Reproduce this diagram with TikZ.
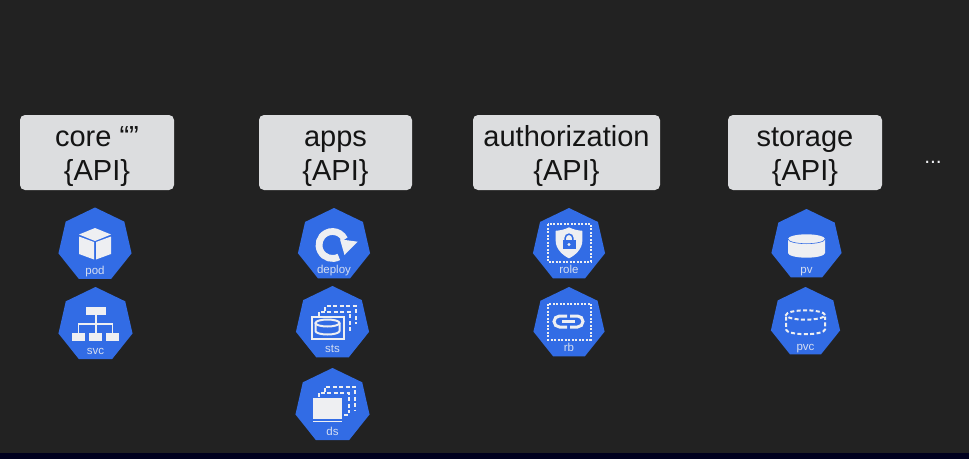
\documentclass[tikz,border=0pt]{standalone}
\usepackage{fontspec}
\setmainfont{Liberation Sans}
\usetikzlibrary{shapes.geometric}
\definecolor{bgdark}{HTML}{222222}
\definecolor{stripdark}{HTML}{00001E}
\definecolor{boxgrey}{HTML}{DCDDDF}
\definecolor{kblue}{HTML}{326CE5}
\definecolor{iconw}{HTML}{EEEFF2}
\definecolor{labelw}{HTML}{D5DEF2}
\newcommand{\apistrut}{\rule{0pt}{24pt}\rule[-5pt]{0pt}{5pt}}
\tikzset{
  apibox/.style={fill=boxgrey,rounded corners=5pt,minimum height=75pt,inner sep=0pt},
  apitext/.style={align=center,text=black!92,inner sep=0pt,yshift=-2pt,font=\fontsize{29}{34}\selectfont},
  hept/.style={regular polygon,regular polygon sides=7,fill=kblue,inner sep=0pt,outer sep=0pt},
  kindlabel/.style={text=labelw,font=\fontsize{11.5}{12}\selectfont,inner sep=0pt,anchor=base},
  solidw/.style={fill=iconw,draw=none},
  linew/.style={draw=iconw,line width=1.8pt},
  dashw/.style={draw=iconw,line width=2pt,dash pattern=on 4pt off 2.4pt},
  dashs/.style={draw=iconw,line width=2pt,dash pattern=on 2pt off 1.5pt},
}
% name, cx, cy, R, label, baseline offset, icon
\newcommand{\kobj}[7]{%
  \node[hept,minimum size={2*#4pt}] (#1) at (#2,#3) {};
  \node[kindlabel] (#1label) at (#2,#3-#6) {#5};
  \begin{scope}[shift={(#1.center)}]#7\end{scope}%
}
\begin{document}
\begin{tikzpicture}[x=1pt,y=1pt]
\useasboundingbox (0,0) rectangle (969,459);
\fill[bgdark] (0,0) rectangle (969,459);
\fill[stripdark] (0,0) rectangle (969,6.3);
\node[apibox,minimum width=154pt] (core) at (97,306.5) {};
\node[apitext] (coretext) at (core.center) {\apistrut core “”\\\apistrut\{API\}};
\node[apibox,minimum width=153pt] (apps) at (335.5,306.5) {};
\node[apitext] (appstext) at (apps.center) {\apistrut apps\\\apistrut\{API\}};
\node[apibox,minimum width=187pt] (authz) at (566.5,306.5) {};
\node[apitext] (authztext) at (authz.center) {\apistrut authorization\\\apistrut\{API\}};
\node[apibox,minimum width=154pt] (storage) at (805,306.5) {};
\node[apitext] (storagetext) at (storage.center) {\apistrut storage\\\apistrut\{API\}};
\node[text=iconw,font=\fontsize{21}{22}\selectfont,inner sep=0pt] (more) at (933,297) {...};

\kobj{pod}{95}{214}{37.5}{pod}{29}{
  \fill[solidw] (0,17) -- (16,10.5) -- (0,4) -- (-16,10.5) -- cycle;
  \fill[solidw] (-16,8.5) -- (-1,3) -- (-1,-14.5) -- (-16,-9) -- cycle;
  \fill[solidw] (16,8.5) -- (1,3) -- (1,-14.5) -- (16,-9) -- cycle;
}
\kobj{svc}{95.5}{134}{38}{svc}{29.3}{
  \fill[solidw] (-9.5,18) rectangle (10.5,10);
  \fill[solidw] (-23.5,-8) rectangle (-10.5,-16);
  \fill[solidw] (-6.5,-8) rectangle (6.5,-16);
  \fill[solidw] (10.5,-8) rectangle (23.5,-16);
  \draw[linew] (0.5,10) -- (0.5,-8);
  \draw[linew] (-17,-8) -- (-17,1) -- (17,1) -- (17,-8);
}
\kobj{deploy}{334}{214}{37}{deploy}{28.3}{
  \draw[draw=iconw,line width=6.8pt] (-1.5,0) ++(-62:13.5) arc[start angle=-62,end angle=-335,radius=13.5];
  \fill[solidw] (23.7,3.3) -- (6,5.7) -- (10.5,-10) -- cycle;
}
\kobj{sts}{332.5}{135.5}{37.5}{sts}{29.2}{
  \draw[dashw] (-7.5,13) -- (-7.5,17.5) -- (23,17.5) -- (23,0);
  \draw[dashw] (-14,8) -- (-14,12) -- (17.5,12) -- (17.5,-8);
  \fill[kblue] (-22,8) rectangle (12,-16);
  \draw[draw=iconw,line width=2pt] (-21,7) rectangle (11,-15);
  \draw[draw=iconw,line width=2pt] (-5,0.5) ellipse[x radius=12,y radius=3.5];
  \draw[draw=iconw,line width=2pt] (-17,0.5) -- (-17,-7.5) arc[start angle=180,end angle=360,x radius=12,y radius=3.5] -- (7,0.5);
}
\kobj{ds}{332.5}{53}{38}{ds}{29}{
  \draw[dashw] (-7.5,14) -- (-7.5,19) -- (22.5,19) -- (22.5,-4);
  \draw[dashw] (-14,9) -- (-14,13) -- (16,13) -- (16,-7);
  \fill[kblue] (-21,9.5) rectangle (10.5,-14);
  \fill[solidw] (-19.5,8) rectangle (9,-12.5);
  \fill[solidw] (-19.5,-14.5) rectangle (9,-16);
  \fill[solidw] (11,-8) rectangle (15,-10);
}
\kobj{role}{569}{214}{37}{role}{28.3}{
  \draw[dashs] (-21.3,21) rectangle (21.7,-16.7);
  \fill[solidw] (0,17.7) .. controls (4,15.5) and (9,14.5) .. (13.3,14.2) -- (13.3,4) .. controls (13.3,-4) and (6,-10.5) .. (0,-13.3) .. controls (-6,-10.5) and (-13.3,-4) .. (-13.3,4) -- (-13.3,14.2) .. controls (-9,14.5) and (-4,15.5) .. (0,17.7) -- cycle;
  \fill[kblue] (-6.5,5) rectangle (6.5,-4);
  \draw[draw=kblue,line width=1.5pt] (-3.8,5) -- (-3.8,7) arc[start angle=180,end angle=0,radius=3.8] -- (3.8,5);
  \fill[iconw] (0,0.5) circle[radius=1.7];
}
\kobj{rb}{569}{135.5}{36.5}{rb}{27.5}{
  \draw[dashs] (-20.7,20) rectangle (21.7,-16);
  \draw[draw=iconw,line width=3pt] (-2,7.5) -- (-9.5,7.5) arc[start angle=90,end angle=270,radius=5.5] -- (-2,-3.5);
  \draw[draw=iconw,line width=3pt] (1,7.5) -- (8.5,7.5) arc[start angle=90,end angle=-90,radius=5.5] -- (1,-3.5);
  \draw[draw=iconw,line width=3pt] (-7,2) -- (6,2);
}
\kobj{pv}{806.5}{214}{36}{pv}{28.3}{
  \fill[solidw] (-18.5,6) -- (-18.5,-8) arc[start angle=180,end angle=360,x radius=18.5,y radius=4.7] -- (18.5,6) arc[start angle=0,end angle=180,x radius=18.5,y radius=4.7] -- cycle;
  \draw[draw=kblue,line width=0.6pt] (-18.5,6) arc[start angle=180,end angle=360,x radius=18.5,y radius=4.7];
}
\kobj{pvc}{805.5}{136.5}{35.5}{pvc}{27.5}{
  \draw[dashw] (0,7.5) ellipse[x radius=19.5,y radius=4.7];
  \draw[dashw] (-19.5,6) -- (-19.5,-7) arc[start angle=180,end angle=360,x radius=19.5,y radius=4.7] -- (19.5,6);
}
\end{tikzpicture}
\end{document}
